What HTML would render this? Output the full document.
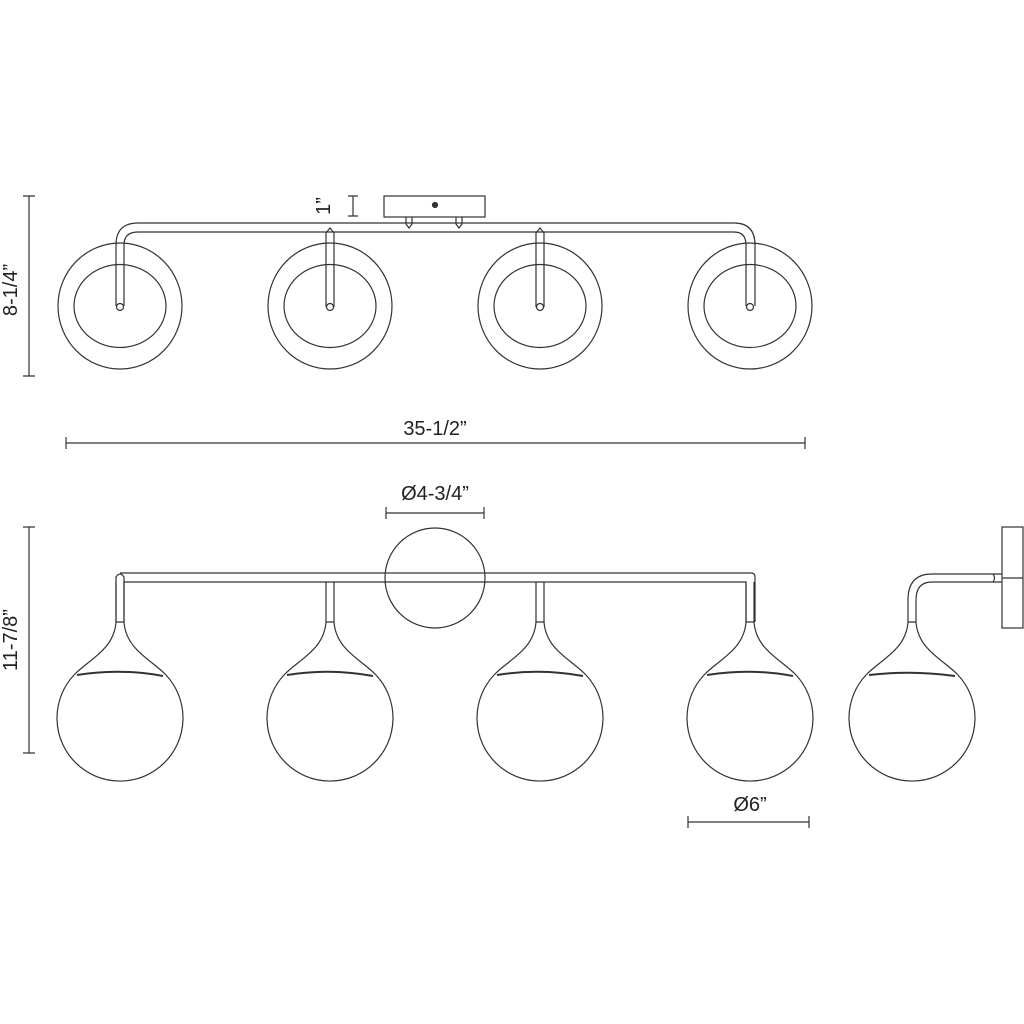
<!DOCTYPE html>
<html><head><meta charset="utf-8"><style>
html,body{margin:0;padding:0;background:#fff;}
svg{display:block}
text{font-family:"Liberation Sans",sans-serif;fill:#222;}
</style></head><body>
<svg width="1024" height="1024" viewBox="0 0 1024 1024" xmlns="http://www.w3.org/2000/svg">
<g fill="none" stroke="#333" stroke-width="1.2">
<!-- TOP VIEW -->
<g id="ring">
<ellipse cx="120" cy="306" rx="62" ry="63"/>
<ellipse cx="120" cy="306" rx="46" ry="41.5"/>
</g>
<use href="#ring" x="210"/>
<use href="#ring" x="420"/>
<use href="#ring" x="630"/>
<!-- bar with bends -->
<path d="M116,306 V245 Q116,223 138,223 H734 Q755,223 755,245 V306"/>
<path d="M124,306 V245 Q124,232 138,232 H734 Q746,232 746,245 V306"/>
<circle cx="120" cy="307" r="3.5"/>
<circle cx="750" cy="307" r="3.5"/>
<!-- stems -->
<g id="st"><path d="M326,307 V233 L330,228 L334,233 V307"/><circle cx="330" cy="307" r="3.5"/></g>
<use href="#st" x="210"/>
<!-- canopy -->
<rect x="384" y="196" width="101" height="21"/>
<circle cx="435" cy="205" r="2.5" fill="#333"/>
<path d="M406,217 V224 L409,228 L412,224 V217"/>
<path d="M456,217 V224 L459,228 L462,224 V217"/>
<!-- dims top -->
<path d="M353,196 V216 M348,196 H358 M348,216 H358"/>
<path d="M29,196 V376 M23,196 H35 M23,376 H35"/>
<path d="M66,443 H805 M66,437 V449 M805,437 V449"/>
<!-- FRONT VIEW -->
<circle cx="435" cy="578" r="50"/>
<path d="M116,622 V577 Q120,571 124,577 V622 M120,573 H751 Q755,573 755,577 V622 M746,622 V582 H124"/>
<g id="gl">
<path d="M326,582 V622 M334,582 V622 M326,622 H334"/>
<path d="M284,675 A63,63 0 1 0 376,675"/>
<path d="M326,622 C324,650 298,660 284,675 M334,622 C336,650 362,660 376,675"/>
<path d="M287,675 Q330,668 373,676" stroke-width="2"/>
</g>
<use href="#gl" x="-210"/>
<use href="#gl" x="210"/>
<use href="#gl" x="420"/>
<!-- side view -->
<path d="M866,675 A63,63 0 1 0 958,675"/>
<path d="M908,622 C906,650 880,660 866,675 M916,622 C918,650 944,660 958,675"/>
<path d="M869,675 Q912,670 955,676" stroke-width="2"/>
<path d="M908,622 V600 Q908,574 932,574 H1002 M916,622 V600 Q916,582 932,582 H1002 M908,622 H916"/>
<path d="M993,574 Q996,578 993,582"/>
<rect x="1002" y="527" width="21" height="101"/>
<path d="M1002,578 H1023"/>
<!-- dims bottom -->
<path d="M386,513 H484 M386,507 V519 M484,507 V519"/>
<path d="M29,527 V753 M23,527 H35 M23,753 H35"/>
<path d="M688,822 H809 M688,816 V828 M809,816 V828"/>
</g>
<g font-size="20">
<text x="435" y="435" text-anchor="middle">35-1/2”</text>
<text x="435" y="500" text-anchor="middle">Ø4-3/4”</text>
<text x="750" y="811" text-anchor="middle">Ø6”</text>
<text transform="translate(17,290) rotate(-90)" text-anchor="middle">8-1/4”</text>
<text transform="translate(17,640) rotate(-90)" text-anchor="middle">11-7/8”</text>
<text transform="translate(330,206) rotate(-90)" text-anchor="middle">1”</text>
</g>
</svg>
</body></html>
